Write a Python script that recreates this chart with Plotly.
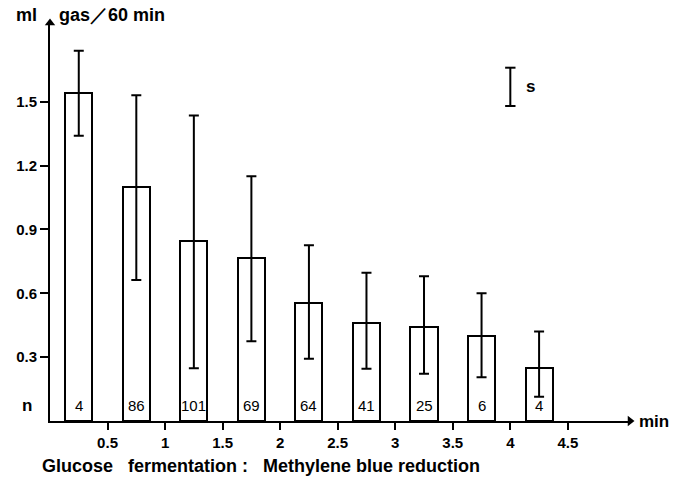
import plotly.graph_objects as go

# Data
x_centers = [0.25, 0.75, 1.25, 1.75, 2.25, 2.75, 3.25, 3.75, 4.25]
gas_mean = [1.54, 1.10, 0.845, 0.765, 0.556, 0.462, 0.442, 0.40, 0.25]
err_plus = [0.20, 0.43, 0.59, 0.385, 0.27, 0.234, 0.238, 0.20, 0.17]
err_minus = [0.20, 0.437, 0.597, 0.39, 0.263, 0.216, 0.22, 0.195, 0.136]
n_counts = ["4", "86", "101", "69", "64", "41", "25", "6", "4"]
x_ticks = [0.5, 1, 1.5, 2, 2.5, 3, 3.5, 4, 4.5]
x_tick_text = ["0.5", "1", "1.5", "2", "2.5", "3", "3.5", "4", "4.5"]
y_ticks = [0.3, 0.6, 0.9, 1.2, 1.5]
y_tick_text = ["0.3", "0.6", "0.9", "1.2", "1.5"]

XMAX = 5.04
YMAX = 1.87
FONT = "Liberation Sans, Arial, sans-serif"

fig = go.Figure()
fig.add_trace(go.Bar(
    x=x_centers, y=gas_mean, width=0.235,
    marker=dict(color="white", line=dict(color="black", width=2)),
    error_y=dict(type="data", symmetric=False, array=err_plus, arrayminus=err_minus,
                 color="black", thickness=2, width=5),
    showlegend=False,
))

# axis arrowheads
fig.add_trace(go.Scatter(x=[0], y=[YMAX], mode="markers", cliponaxis=False,
                         marker=dict(symbol="triangle-up", size=9, color="black"),
                         showlegend=False, hoverinfo="skip"))
fig.add_trace(go.Scatter(x=[XMAX], y=[0], mode="markers", cliponaxis=False,
                         marker=dict(symbol="triangle-right", size=9, color="black"),
                         showlegend=False, hoverinfo="skip"))

annotations = []
for xc, n in zip(x_centers, n_counts):
    annotations.append(dict(x=xc, y=0.075, text=n, showarrow=False,
                            font=dict(size=15, color="black", family=FONT)))
annotations += [
    dict(xref="paper", yref="y", x=-0.04, y=0.075, text="<b>n</b>", showarrow=False,
         font=dict(size=17, color="black", family=FONT), xanchor="center"),
    dict(xref="paper", yref="paper", x=-0.062, y=1.0, yshift=8, text="<b>ml</b>", showarrow=False,
         font=dict(size=18, color="black", family=FONT), xanchor="left", yanchor="middle"),
    dict(xref="paper", yref="paper", x=0.008, xshift=2, y=1.0, yshift=8, text="<b>gas／60 min</b>", showarrow=False,
         font=dict(size=18, color="black", family=FONT), xanchor="left", yanchor="middle"),
    dict(xref="paper", yref="y", x=1.0, xshift=7, y=0, text="<b>min</b>", showarrow=False,
         font=dict(size=17, color="black", family=FONT), xanchor="left", yanchor="middle"),
    dict(xref="paper", yref="paper", x=-0.017, y=0.0, yshift=-45,
         text="<b>Glucose&nbsp;&nbsp;&nbsp;fermentation :&nbsp;&nbsp;&nbsp;Methylene blue reduction</b>",
         showarrow=False, font=dict(size=18, color="black", family=FONT), xanchor="left", yanchor="middle"),
    dict(x=4.12, y=1.57, text="<b>s</b>", showarrow=False, xanchor="left",
         font=dict(size=17, color="black", family=FONT)),
]

# s legend (standard deviation marker)
SX = 4.0
shapes = [
    dict(type="line", xref="x", yref="y", x0=SX - 0.045, x1=SX + 0.045, y0=1.66, y1=1.66,
         line=dict(color="black", width=2)),
    dict(type="line", xref="x", yref="y", x0=SX - 0.045, x1=SX + 0.045, y0=1.48, y1=1.48,
         line=dict(color="black", width=2)),
    dict(type="line", xref="x", yref="y", x0=SX, x1=SX, y0=1.48, y1=1.66,
         line=dict(color="black", width=2)),
]

fig.update_layout(
    width=686, height=479,
    margin=dict(l=50, r=56, t=23, b=58),
    paper_bgcolor="white", plot_bgcolor="white",
    annotations=annotations, shapes=shapes,
    bargap=0,
    xaxis=dict(range=[0, XMAX], tickvals=x_ticks, ticktext=x_tick_text,
               ticks="outside", ticklen=7, tickwidth=2, tickcolor="black",
               showline=True, linecolor="black", linewidth=2, showgrid=False, zeroline=False),
    yaxis=dict(range=[0, YMAX], tickvals=y_ticks, ticktext=y_tick_text,
               ticks="outside", ticklen=8, tickwidth=2, tickcolor="black",
               showline=True, linecolor="black", linewidth=2, showgrid=False, zeroline=False),
    font=dict(family=FONT, color="black"),
)
fig.update_xaxes(tickfont=dict(family=FONT, size=15, weight="bold", color="black"))
fig.update_yaxes(tickfont=dict(family=FONT, size=15, weight="bold", color="black"))

fig.write_html("out.html")
